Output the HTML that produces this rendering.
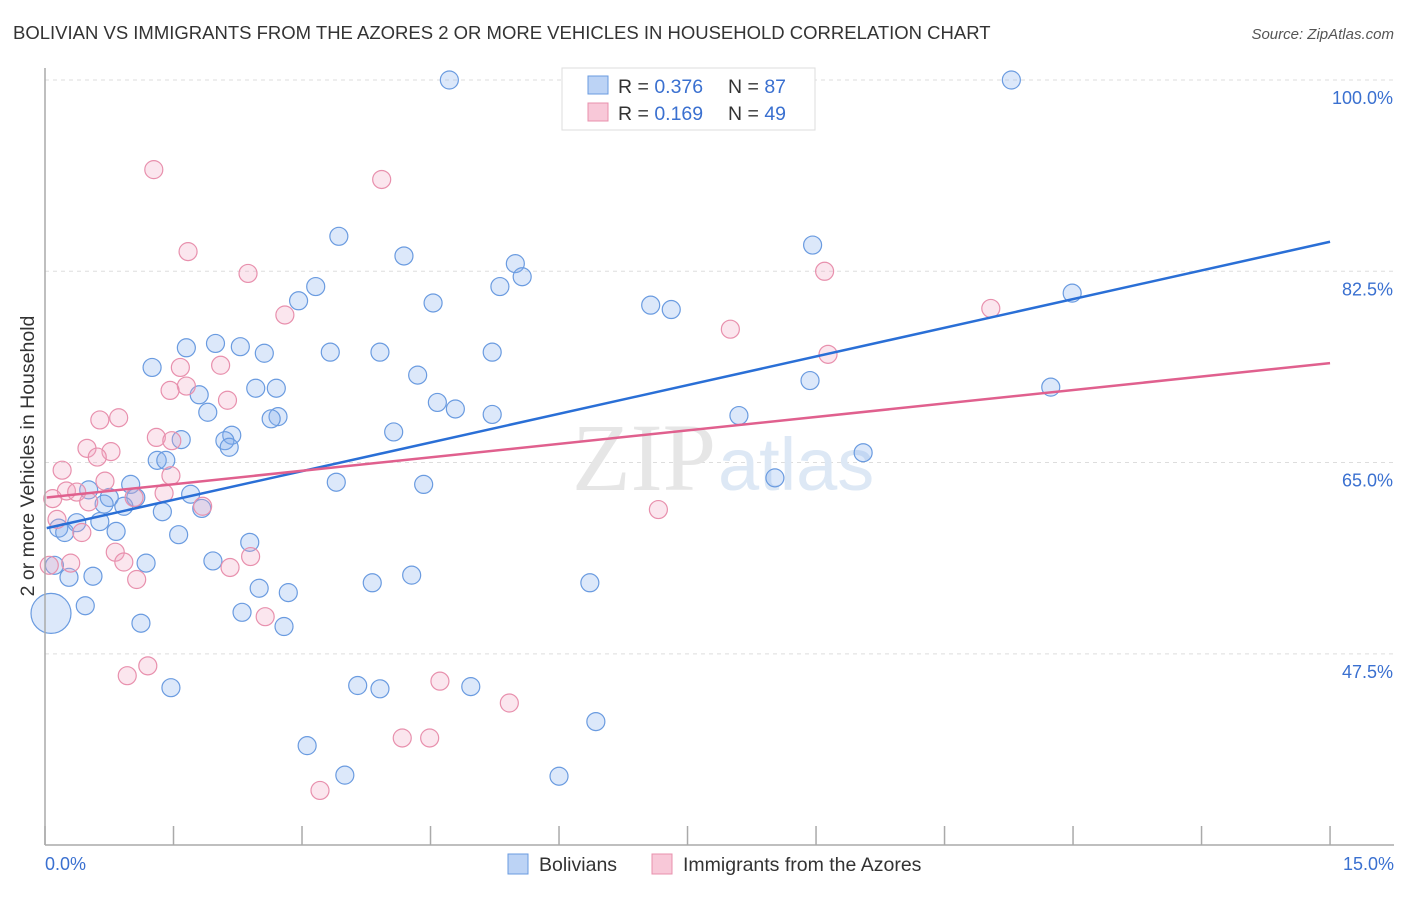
<!DOCTYPE html>
<html><head><meta charset="utf-8"><style>
body{margin:0;background:#fff;font-family:"Liberation Sans",sans-serif}
</style></head><body>
<svg width="1406" height="892" viewBox="0 0 1406 892" xmlns="http://www.w3.org/2000/svg" font-family="Liberation Sans, sans-serif">
<text x="13" y="39" font-size="18.5" fill="#333">BOLIVIAN VS IMMIGRANTS FROM THE AZORES 2 OR MORE VEHICLES IN HOUSEHOLD CORRELATION CHART</text>
<text x="1394" y="39" font-size="15" fill="#555" text-anchor="end" font-style="italic">Source: ZipAtlas.com</text>
<g id="grid"></g>
<text x="716" y="490" font-size="96" fill="#e6e6e6" text-anchor="end" font-family="Liberation Serif, serif">ZIP</text>
<text x="718" y="490" font-size="74" fill="#dde8f5">atlas</text>
<g id="pts"></g>
<g id="lines"></g>
<line x1="45" y1="68" x2="45" y2="845" stroke="#aaa" stroke-width="1.5"/>
<line x1="45" y1="845" x2="1394" y2="845" stroke="#aaa" stroke-width="1.5"/>
<g id="ticks"></g>
<text x="45" y="870" font-size="18" fill="#3a70d0">0.0%</text>
<text x="1394" y="870" font-size="18" fill="#3a70d0" text-anchor="end">15.0%</text>
<text transform="translate(34,456) rotate(-90)" font-size="19.5" fill="#333" text-anchor="middle">2 or more Vehicles in Household</text>
<g>
<rect x="562" y="68" width="253" height="62" fill="#fff" stroke="#ddd"/>
<rect x="588" y="76" width="20" height="18" fill="#bcd3f5" stroke="#6a9be0"/>
<text x="618" y="93" font-size="19.5" fill="#333">R = <tspan fill="#3a70d0">0.376</tspan></text>
<text x="728" y="93" font-size="19.5" fill="#333">N = <tspan fill="#3a70d0">87</tspan></text>
<rect x="588" y="103" width="20" height="18" fill="#f8c8d8" stroke="#e890ad"/>
<text x="618" y="120" font-size="19.5" fill="#333">R = <tspan fill="#3a70d0">0.169</tspan></text>
<text x="728" y="120" font-size="19.5" fill="#333">N = <tspan fill="#3a70d0">49</tspan></text>
</g>
<g>
<rect x="508" y="854" width="20" height="20" fill="#bcd3f5" stroke="#6a9be0"/>
<text x="539" y="871" font-size="19.5" fill="#333">Bolivians</text>
<rect x="652" y="854" width="20" height="20" fill="#f8c8d8" stroke="#e890ad"/>
<text x="683" y="871" font-size="19.5" fill="#333">Immigrants from the Azores</text>
</g>
</svg>
<script>
const yTicks=[100,82.5,65,47.5];
const yTickLabels=["100.0%","82.5%","65.0%","47.5%"];
const xTicks=[0,1.5,3,4.5,6,7.5,9,10.5,12,13.5,15];
const blueX=[4.72,11.28,3.43,8.96,4.19,5.49,5.57,3.16,5.31,11.99,2.96,4.53,7.07,7.31,1.99,2.28,1.65,2.56,3.33,3.91,5.22,1.25,4.35,8.93,11.74,2.46,2.70,1.80,4.58,4.79,1.90,2.72,2.64,5.22,8.10,4.07,2.18,1.59,2.10,2.15,9.55,1.31,1.41,8.52,3.40,4.42,1.00,0.51,1.70,0.75,1.06,0.69,0.92,1.37,1.83,0.64,0.37,0.16,0.23,0.83,1.56,2.39,0.11,1.18,1.96,0.28,0.56,4.28,3.82,6.36,2.50,2.84,0.47,2.30,0.07,1.12,2.79,1.47,3.65,3.91,4.97,6.43,3.06,3.50,6.00];
const blueY=[100,100,85.7,84.9,83.9,83.2,82.0,81.1,81.1,80.5,79.8,79.6,79.4,79.0,75.9,75.6,75.5,75.0,75.1,75.1,75.1,73.7,73.0,72.5,71.9,71.8,71.8,71.2,70.5,69.9,69.6,69.2,69.0,69.4,69.3,67.8,67.5,67.1,67.0,66.4,65.9,65.2,65.2,63.6,63.2,63.0,63.0,62.5,62.1,61.8,61.8,61.2,61.0,60.5,60.8,59.6,59.5,59.0,58.6,58.7,58.4,57.7,55.6,55.8,56.0,54.5,54.6,54.7,54.0,54.0,53.5,53.1,51.9,51.3,51.2,50.3,50.0,44.4,44.6,44.3,44.5,41.3,39.1,36.4,36.3];
const blueSize=blueX.map((v,i)=>i===74?20:9);
const pinkX=[1.27,3.93,1.67,2.37,9.10,2.80,11.04,8.00,9.14,2.05,1.58,1.65,1.46,2.13,0.64,0.86,1.30,1.48,0.49,0.77,0.61,1.47,0.20,0.70,0.25,0.37,1.39,0.09,1.04,0.51,1.84,7.16,0.14,0.43,0.82,2.40,0.92,0.30,2.16,0.05,1.07,2.57,1.20,0.96,4.61,5.42,4.17,4.49,3.21];
const pinkY=[91.8,90.9,84.3,82.3,82.5,78.5,79.1,77.2,74.9,73.9,73.7,72.0,71.6,70.7,68.9,69.1,67.3,67.0,66.3,66.0,65.5,63.8,64.3,63.3,62.4,62.3,62.2,61.7,61.8,61.4,61.0,60.7,59.8,58.6,56.8,56.4,55.9,55.8,55.4,55.6,54.3,50.9,46.4,45.5,45.0,43.0,39.8,39.8,35.0];
const blueLine=[59.0,85.2];
const pinkLine=[61.8,74.1];
const NS="http://www.w3.org/2000/svg";
function X(v){return 45+v*85.67;}
function Y(v){return 80+(100-v)*10.93;}
function mk(t,a,p){const e=document.createElementNS(NS,t);for(const k in a)e.setAttribute(k,a[k]);p.appendChild(e);return e;}
const grid=document.getElementById('grid');
yTicks.forEach((t,i)=>{
 const l=mk('line',{x1:45,x2:1394,y1:Y(t),y2:Y(t),stroke:'#ddd','stroke-dasharray':'4,4'},grid);
 
 
 const tx=mk('text',{x:1393,y:Y(t)+24,'font-size':18,fill:'#3a70d0','text-anchor':'end'},grid);
 tx.textContent=yTickLabels[i];
 
 
});
const ticks=document.getElementById('ticks');
xTicks.forEach(t=>{
 const l=mk('line',{x1:X(t),x2:X(t),y1:826,y2:845,stroke:'#aaa','stroke-width':1.5},ticks);
 
 
});
const pts=document.getElementById('pts');
blueX.forEach((v,i)=>{
 const c=mk('circle',{cx:X(v),cy:Y(blueY[i]),r:blueSize[i],fill:'rgba(130,172,238,0.28)',stroke:'#6a9be0','stroke-width':1.2},pts);
 
 
});
pinkX.forEach((v,i)=>{
 const c=mk('circle',{cx:X(v),cy:Y(pinkY[i]),r:9,fill:'rgba(242,165,195,0.28)',stroke:'#e890ad','stroke-width':1.2},pts);
 
 
});
const lines=document.getElementById('lines');
const bl=mk('line',{x1:X(0.02),y1:Y(blueLine[0]),x2:X(15),y2:Y(blueLine[1]),stroke:'#2a6fd6','stroke-width':2.5},lines);


const pl=mk('line',{x1:X(0.02),y1:Y(pinkLine[0]),x2:X(15),y2:Y(pinkLine[1]),stroke:'#e0608e','stroke-width':2.5},lines);


</script>
</body></html>
